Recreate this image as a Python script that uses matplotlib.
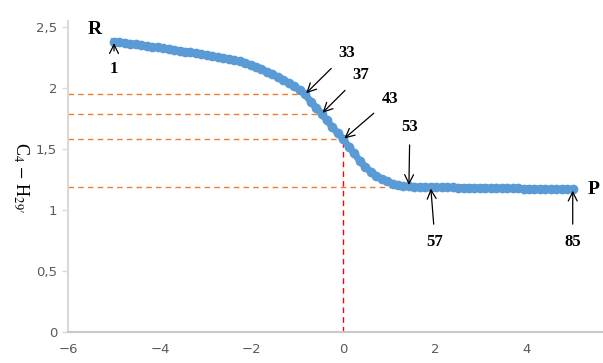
import numpy as np
import matplotlib
matplotlib.use("Agg")
import matplotlib.pyplot as plt

plt.rcParams['mathtext.fontset'] = 'stix'

# energy profile along the reaction coordinate, 85 points
n_points = 85
coord = np.linspace(-5.0, 5.0, n_points)
bond = [2.380, 2.375, 2.370, 2.365, 2.360, 2.353, 2.347, 2.340, 2.334, 2.327,
        2.320, 2.314, 2.307, 2.300, 2.293, 2.287, 2.280, 2.272, 2.264, 2.256,
        2.248, 2.240, 2.231, 2.222, 2.208, 2.191, 2.175, 2.157, 2.136, 2.114,
        2.092, 2.070, 2.042, 2.015, 1.983, 1.950, 1.890, 1.840, 1.790, 1.735,
        1.680, 1.630, 1.580, 1.520, 1.465, 1.405, 1.355, 1.315, 1.283, 1.258,
        1.236, 1.218, 1.205, 1.198, 1.195, 1.192, 1.190, 1.189, 1.188, 1.188,
        1.187, 1.186, 1.186, 1.185, 1.184, 1.184, 1.183, 1.182, 1.182, 1.181,
        1.180, 1.180, 1.179, 1.178, 1.178, 1.177, 1.176, 1.176, 1.175, 1.174,
        1.174, 1.173, 1.172, 1.172, 1.171]

# annotated points: label text, index into the data, text position
point_labels = ['1', '33', '37', '43', '53', '57', '85']
point_idx = [0, 35, 38, 42, 54, 58, 84]
label_pos = [(-5.0, 2.16), (0.08, 2.29), (0.38, 2.11), (1.02, 1.91),
             (1.45, 1.68), (2.0, 0.74), (5.0, 0.74)]

# dashed guide lines go to these points
guide_idx = [35, 38, 42, 58]

xticks = [-6, -4, -2, 0, 2, 4]
yticks = [0, 0.5, 1, 1.5, 2, 2.5]
ytick_labels = ['0', '0,5', '1', '1,5', '2', '2,5']

fig = plt.figure(figsize=(6.03, 3.63), dpi=100)
ax = fig.add_axes([0.113, 0.085, 0.887, 0.857])

for i in guide_idx:
    ax.plot([-6, coord[i]], [bond[i], bond[i]], color='#ED7D31',
            lw=1, dashes=(4, 3), zorder=1)
ax.plot([0, 0], [0, bond[42]], color='#FF0000', lw=1, dashes=(4, 3), zorder=1)

ax.plot(coord, bond, '-', color='#5B9BD5', lw=5, zorder=2)
ax.plot(coord, bond, 'o', color='#5B9BD5', markersize=7, markeredgewidth=0,
        zorder=2)

for lab, i, pos in zip(point_labels, point_idx, label_pos):
    ax.annotate(lab, xy=(coord[i], bond[i]), xytext=pos,
                ha='center', va='center', fontsize=12, fontweight='bold',
                family='Liberation Serif',
                arrowprops=dict(arrowstyle='->', color='black', lw=0.9,
                                shrinkA=5, shrinkB=1, mutation_scale=16),
                zorder=3)

ax.text(-5.43, 2.48, 'R', fontsize=14, fontweight='bold',
        family='Liberation Serif', ha='center', va='center')
ax.text(5.45, 1.17, 'P', fontsize=14, fontweight='bold',
        family='Liberation Serif', ha='center', va='center')

ax.set_xlim(-6, 5.66)
ax.set_ylim(0, 2.55)
ax.set_xticks(xticks)
ax.set_yticks(yticks)
ax.set_yticklabels(ytick_labels)
ax.tick_params(axis='both', colors='#D9D9D9', labelcolor='#595959',
               labelsize=9.5)
ax.tick_params(axis='x', length=0, pad=8)
ax.tick_params(axis='y', length=4, width=1, pad=4)

for s in ['top', 'right']:
    ax.spines[s].set_visible(False)
ax.spines['left'].set_color('#D9D9D9')
ax.spines['left'].set_linewidth(1.5)
ax.spines['bottom'].set_color('#C8C8C8')
ax.spines['bottom'].set_linewidth(1.5)

fig.text(0.035, 0.51, r"C$_4$ $-$ H$_{29\prime}$", rotation=-90, fontsize=13,
         family='Liberation Serif', ha='center', va='center')

fig.savefig('out.png', dpi=100)
